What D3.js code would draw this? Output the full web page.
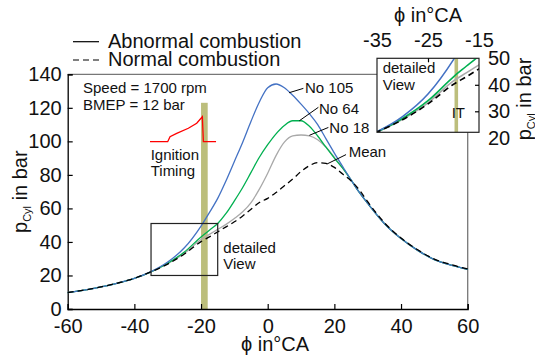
<!DOCTYPE html>
<html>
<head>
<meta charset="utf-8">
<script src="https://cdn.jsdelivr.net/npm/d3@7"></script>
<style>
  body { margin: 0; background: #fff; }
  text { font-family: "Liberation Sans", Arial, sans-serif; fill: #111; }
</style>
</head>
<body>
<div id="container"></div>
<script>
/* DATA */
const angles = [-60, -55, -50, -45, -40, -35, -30, -25, -20, -17.5, -15, -12.5, -10, -7.5, -5, -2.5,
  0, 2.5, 5, 7.5, 10, 12.5, 15, 17.5, 20, 22.5, 25, 27.5, 30, 35, 40, 45, 50, 55, 60];

const no105 = [9.8, 11.3, 13.2, 15.5, 18.3, 22.3, 28, 36.5, 49.5, 57.5, 66, 76.5, 88, 99.5, 112, 123.5,
  132, 134.2, 132, 127.5, 122.2, 116.5, 110, 101.5, 93, 85, 77, 69.5, 63, 51, 42, 35, 29.5, 26.2, 23.7];
const no64 = [9.8, 11.3, 13.2, 15.5, 18.3, 22.2, 27.3, 34, 43, 47, 51, 57, 64.5, 72.5, 81.5, 90.5,
  98, 104.5, 109.5, 112.3, 112.3, 109, 103.2, 96.5, 90, 84, 77, 69.5, 63, 51, 42, 35, 29.5, 26.2, 23.7];
const no18 = [9.8, 11.3, 13.2, 15.5, 18.3, 22.2, 27, 33.2, 41.5, 44.5, 47.5, 50.5, 54, 58, 63.5, 71.5,
  81, 91.5, 99.5, 103.2, 103.8, 103.3, 101, 96.5, 90.5, 84, 77, 69.5, 63, 51, 42, 35, 29.5, 26.2, 23.7];
const meanCurve = [9.8, 11.3, 13.2, 15.5, 18.3, 22.2, 26.8, 32.8, 40.2, 43, 46, 49, 52, 55.5, 59.5, 63.5,
  66, 69.5, 73.5, 77.5, 82, 85.5, 87.3, 86.8, 84.5, 80.5, 76.5, 71, 64, 51.5, 42.3, 35.3, 29.8, 26.5, 23.9];

// red ignition signal sketch, [angle, bar]
const ignition = [[-35.3, 99.8], [-30, 99.8], [-29.3, 102.8], [-27.3, 104.8], [-23.8, 107.8],
  [-21.3, 110.8], [-19.6, 114.7], [-19.3, 99.8], [-15.5, 99.8]];

const xTicks = [-60, -40, -20, 0, 20, 40, 60];
const yTicks = [0, 20, 40, 60, 80, 100, 120, 140];
const insetXTicks = [-35, -25, -15];
const insetYTicks = [20, 30, 40, 50];

const series = [
  { name: "No 18", values: no18, color: "#a9a9a9", dash: null },
  { name: "No 64", values: no64, color: "#00b050", dash: null },
  { name: "No 105", values: no105, color: "#4472c4", dash: null },
  { name: "Mean", values: meanCurve, color: "#000", dash: "6,4" }
];

// label, leader start, leader end, text anchor (angle, bar)
const labels = [
  { text: "No 105", from: [6.4, 129.0], to: [10.7, 131.6], at: [11.2, 129.0] },
  { text: "No 64", from: [9.5, 112.3], to: [15.2, 120.3], at: [15.4, 116.3] },
  { text: "No 18", from: [12.5, 103.6], to: [18.2, 108.3], at: [18.5, 104.8] },
  { text: "Mean", from: [17.8, 86.5], to: [23.5, 92.1], at: [24.3, 90.4] }
];

/* LAYOUT */
const width = 535, height = 358;
const frameGray = "#777";
const bandColor = "#bcbe7c";

const svg = d3.select("#container").append("svg")
  .attr("width", width).attr("height", height);

const x = d3.scaleLinear().domain([-60, 60]).range([67.7, 467.7]);
const y = d3.scaleLinear().domain([0, 140]).range([309, 74.3]);

const xi = d3.scaleLinear().domain([-35, -15]).range([377, 479]);
const yi = d3.scaleLinear().domain([20, 50]).range([137.8, 58.3]);
const insetBottom = 132.3;

/* legend */
const legend = svg.append("g");
legend.append("line").attr("x1", 73).attr("x2", 99).attr("y1", 41.7).attr("y2", 41.7)
  .attr("stroke", "#000").attr("stroke-width", 1.2);
legend.append("line").attr("x1", 73).attr("x2", 99).attr("y1", 60).attr("y2", 60)
  .attr("stroke", "#000").attr("stroke-width", 1.2).attr("stroke-dasharray", "6,4");
legend.append("text").attr("x", 108).attr("y", 48.3).attr("font-size", 20).text("Abnormal combustion");
legend.append("text").attr("x", 108).attr("y", 66).attr("font-size", 20).text("Normal combustion");

/* ignition band */
svg.append("rect")
  .attr("x", x(-20)).attr("width", x(-18) - x(-20))
  .attr("y", y(123)).attr("height", y(0) - y(123))
  .attr("fill", bandColor);

/* frame */
svg.append("line").attr("x1", x(-60)).attr("x2", x(60)).attr("y1", y(140)).attr("y2", y(140))
  .attr("stroke", frameGray).attr("stroke-width", 1.3);
svg.append("line").attr("x1", x(60)).attr("x2", x(60)).attr("y1", y(140)).attr("y2", y(0))
  .attr("stroke", frameGray).attr("stroke-width", 1.3);

/* axes */
const xAxis = d3.axisBottom(x).tickValues(xTicks).tickSize(-5).tickPadding(10).tickFormat(d3.format("d"));
const yAxis = d3.axisLeft(y).tickValues(yTicks).tickSize(-5).tickPadding(6).tickFormat(d3.format("d"));

const xAxisGroup = svg.append("g").attr("transform", `translate(0, ${y(0)})`).call(xAxis);
const yAxisGroup = svg.append("g").attr("transform", `translate(${x(-60)}, 0)`).call(yAxis);

[xAxisGroup, yAxisGroup].forEach(g => {
  g.attr("font-size", 20).attr("font-family", "Liberation Sans, Arial, sans-serif");
  g.select(".domain").attr("stroke", "#000").attr("stroke-width", 1.3);
  g.selectAll(".tick line").attr("stroke", "#000").attr("stroke-width", 1.2);
  g.selectAll(".tick text").attr("fill", "#111").text(d => d < 0 ? "-" + Math.abs(d) : d);
});

/* curves */
const line = d3.line()
  .x((d, i) => x(angles[i]))
  .y(d => y(d))
  .curve(d3.curveMonotoneX);

svg.append("g").selectAll("path")
  .data(series)
  .join("path")
  .attr("d", d => line(d.values))
  .attr("fill", "none")
  .attr("stroke", d => d.color)
  .attr("stroke-width", 1.3)
  .attr("stroke-dasharray", d => d.dash);

/* ignition sketch */
svg.append("path")
  .attr("d", d3.line().x(d => x(d[0])).y(d => y(d[1]))(ignition))
  .attr("fill", "none").attr("stroke", "#ff0000").attr("stroke-width", 1.3);

svg.append("text").attr("x", 150.7).attr("y", 160).attr("font-size", 15).text("Ignition");
svg.append("text").attr("x", 150.7).attr("y", 176).attr("font-size", 15).text("Timing");

svg.append("text").attr("x", 83).attr("y", 93).attr("font-size", 15).text("Speed = 1700 rpm");
svg.append("text").attr("x", 83).attr("y", 110).attr("font-size", 15).text("BMEP = 12 bar");

/* curve labels */
const lab = svg.append("g");
lab.selectAll("line").data(labels).join("line")
  .attr("x1", d => x(d.from[0])).attr("y1", d => y(d.from[1]))
  .attr("x2", d => x(d.to[0])).attr("y2", d => y(d.to[1]))
  .attr("stroke", "#000").attr("stroke-width", 1);
lab.selectAll("text").data(labels).join("text")
  .attr("x", d => x(d.at[0])).attr("y", d => y(d.at[1]))
  .attr("font-size", 15).text(d => d.text);

/* detailed view box */
svg.append("rect")
  .attr("x", x(-35)).attr("y", y(51))
  .attr("width", x(-15) - x(-35)).attr("height", y(20) - y(51))
  .attr("fill", "none").attr("stroke", "#222").attr("stroke-width", 1.2);
svg.append("text").attr("x", 223.3).attr("y", 253.3).attr("font-size", 15).text("detailed");
svg.append("text").attr("x", 223.3).attr("y", 269.3).attr("font-size", 15).text("View");

/* axis titles */
svg.append("text").attr("x", 275).attr("y", 351).attr("font-size", 20).attr("text-anchor", "middle")
  .text("\u03D5 in\u00B0CA");

const yTitle = svg.append("text")
  .attr("transform", `translate(27, ${(y(0) + y(140)) / 2}) rotate(-90)`)
  .attr("text-anchor", "middle").attr("font-size", 20);
yTitle.append("tspan").text("p");
yTitle.append("tspan").attr("font-size", 11).attr("dy", 4).text("Cyl");
yTitle.append("tspan").attr("dy", -4).text(" in bar");

/* INSET */
const inset = svg.append("g");
inset.append("rect")
  .attr("x", xi(-35)).attr("y", yi(50))
  .attr("width", xi(-15) - xi(-35)).attr("height", insetBottom - yi(50))
  .attr("fill", "#fff");

svg.append("clipPath").attr("id", "insetClip").append("rect")
  .attr("x", xi(-35)).attr("y", yi(50))
  .attr("width", xi(-15) - xi(-35)).attr("height", insetBottom - yi(50));

inset.append("rect")
  .attr("x", xi(-19.8)).attr("width", xi(-19.1) - xi(-19.8))
  .attr("y", yi(50)).attr("height", insetBottom - yi(50))
  .attr("fill", bandColor);

const insetLine = d3.line()
  .x((d, i) => xi(angles[i]))
  .y(d => yi(d))
  .curve(d3.curveMonotoneX);

inset.append("g").attr("clip-path", "url(#insetClip)")
  .selectAll("path")
  .data(series)
  .join("path")
  .attr("d", d => insetLine(d.values))
  .attr("fill", "none")
  .attr("stroke", d => d.color)
  .attr("stroke-width", 1.6)
  .attr("stroke-dasharray", d => d.dash);

inset.append("rect")
  .attr("x", xi(-35)).attr("y", yi(50))
  .attr("width", xi(-15) - xi(-35)).attr("height", insetBottom - yi(50))
  .attr("fill", "none").attr("stroke", "#222").attr("stroke-width", 1.2);

const xiAxis = d3.axisTop(xi).tickValues(insetXTicks).tickSize(-4).tickPadding(11);
const yiAxis = d3.axisRight(yi).tickValues(insetYTicks).tickSize(-4).tickPadding(9);

const xiGroup = inset.append("g").attr("transform", `translate(0, ${yi(50)})`).call(xiAxis);
const yiGroup = inset.append("g").attr("transform", `translate(${xi(-15)}, 0)`).call(yiAxis);
[xiGroup, yiGroup].forEach(g => {
  g.attr("font-size", 20).attr("font-family", "Liberation Sans, Arial, sans-serif");
  g.select(".domain").remove();
  g.selectAll(".tick line").attr("stroke", "#000").attr("stroke-width", 1.2);
  g.selectAll(".tick text").attr("fill", "#111").text(d => d < 0 ? "-" + Math.abs(d) : d);
});
// hide the tick marks that sit on the box corners
yiGroup.selectAll(".tick").filter(d => d === 20 || d === 50).select("line").remove();
xiGroup.selectAll(".tick").filter(d => d !== -25).select("line").remove();

inset.append("text").attr("x", 382.7).attr("y", 73.3).attr("font-size", 15).text("detailed");
inset.append("text").attr("x", 382.7).attr("y", 90).attr("font-size", 15).text("View");
inset.append("text").attr("x", 451.7).attr("y", 117.7).attr("font-size", 15).text("IT");

inset.append("text").attr("x", 428).attr("y", 21.5).attr("font-size", 20).attr("text-anchor", "middle")
  .text("\u03D5 in\u00B0CA");

const yiTitle = inset.append("text")
  .attr("transform", `translate(531, 99) rotate(-90)`)
  .attr("text-anchor", "middle").attr("font-size", 20);
yiTitle.append("tspan").text("p");
yiTitle.append("tspan").attr("font-size", 11).attr("dy", 4).text("Cyl");
yiTitle.append("tspan").attr("dy", -4).text(" in bar");
</script>
</body>
</html>
